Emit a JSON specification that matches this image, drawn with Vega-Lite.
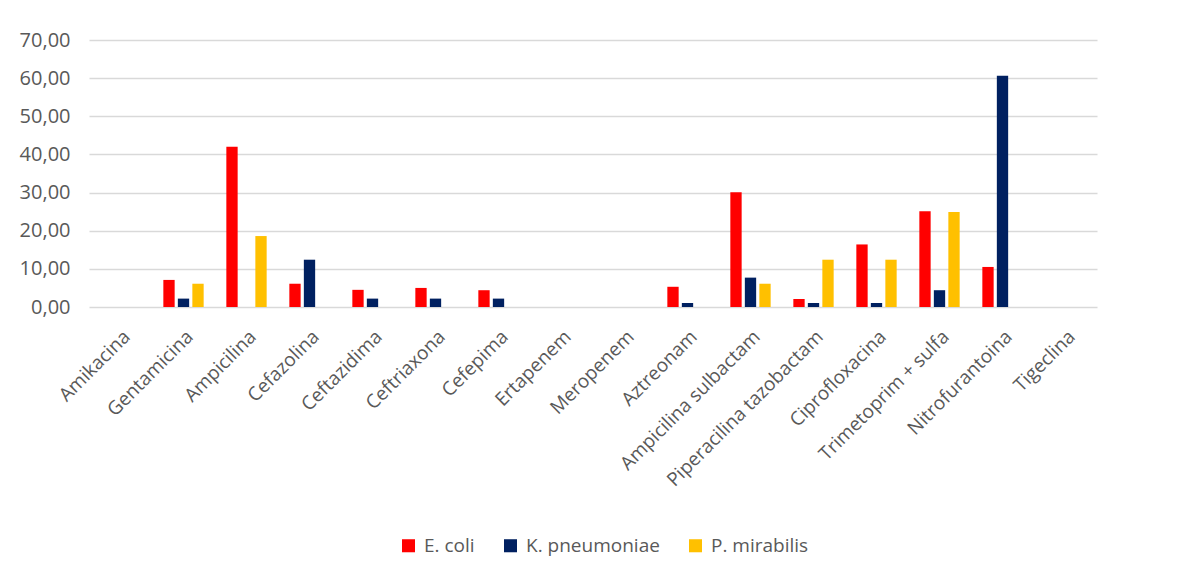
{
  "$schema": "https://vega.github.io/schema/vega-lite/v6.json",
  "width": 1008,
  "height": 267,
  "autosize": {"type": "none"},
  "padding": {"left": 89, "top": 40, "right": 106, "bottom": 276},
  "background": "white",
  "data": {"values": [
    {"a":"Amikacina","s":"E. coli","v":0},{"a":"Amikacina","s":"K. pneumoniae","v":0},{"a":"Amikacina","s":"P. mirabilis","v":0},
    {"a":"Gentamicina","s":"E. coli","v":7.1},{"a":"Gentamicina","s":"K. pneumoniae","v":2.2},{"a":"Gentamicina","s":"P. mirabilis","v":6.1},
    {"a":"Ampicilina","s":"E. coli","v":42.0},{"a":"Ampicilina","s":"K. pneumoniae","v":0},{"a":"Ampicilina","s":"P. mirabilis","v":18.6},
    {"a":"Cefazolina","s":"E. coli","v":6.1},{"a":"Cefazolina","s":"K. pneumoniae","v":12.4},{"a":"Cefazolina","s":"P. mirabilis","v":0},
    {"a":"Ceftazidima","s":"E. coli","v":4.5},{"a":"Ceftazidima","s":"K. pneumoniae","v":2.2},{"a":"Ceftazidima","s":"P. mirabilis","v":0},
    {"a":"Ceftriaxona","s":"E. coli","v":5.0},{"a":"Ceftriaxona","s":"K. pneumoniae","v":2.2},{"a":"Ceftriaxona","s":"P. mirabilis","v":0},
    {"a":"Cefepima","s":"E. coli","v":4.4},{"a":"Cefepima","s":"K. pneumoniae","v":2.2},{"a":"Cefepima","s":"P. mirabilis","v":0},
    {"a":"Ertapenem","s":"E. coli","v":0},{"a":"Ertapenem","s":"K. pneumoniae","v":0},{"a":"Ertapenem","s":"P. mirabilis","v":0},
    {"a":"Meropenem","s":"E. coli","v":0},{"a":"Meropenem","s":"K. pneumoniae","v":0},{"a":"Meropenem","s":"P. mirabilis","v":0},
    {"a":"Aztreonam","s":"E. coli","v":5.3},{"a":"Aztreonam","s":"K. pneumoniae","v":1.05},{"a":"Aztreonam","s":"P. mirabilis","v":0},
    {"a":"Ampicilina sulbactam","s":"E. coli","v":30.1},{"a":"Ampicilina sulbactam","s":"K. pneumoniae","v":7.7},{"a":"Ampicilina sulbactam","s":"P. mirabilis","v":6.1},
    {"a":"Piperacilina tazobactam","s":"E. coli","v":2.1},{"a":"Piperacilina tazobactam","s":"K. pneumoniae","v":1.05},{"a":"Piperacilina tazobactam","s":"P. mirabilis","v":12.4},
    {"a":"Ciprofloxacina","s":"E. coli","v":16.4},{"a":"Ciprofloxacina","s":"K. pneumoniae","v":1.05},{"a":"Ciprofloxacina","s":"P. mirabilis","v":12.4},
    {"a":"Trimetoprim + sulfa","s":"E. coli","v":25.1},{"a":"Trimetoprim + sulfa","s":"K. pneumoniae","v":4.4},{"a":"Trimetoprim + sulfa","s":"P. mirabilis","v":24.9},
    {"a":"Nitrofurantoina","s":"E. coli","v":10.5},{"a":"Nitrofurantoina","s":"K. pneumoniae","v":60.6},{"a":"Nitrofurantoina","s":"P. mirabilis","v":0},
    {"a":"Tigeclina","s":"E. coli","v":0},{"a":"Tigeclina","s":"K. pneumoniae","v":0},{"a":"Tigeclina","s":"P. mirabilis","v":0}
  ]},
  "mark": {"type": "bar"},
  "encoding": {
    "x": {
      "field": "a", "type": "nominal", "sort": null, "title": null,
      "scale": {"paddingInner": 0.36, "paddingOuter": 0.18},
      "axis": {
        "labelAngle": -45, "labelFont": "Open Sans", "labelFontSize": 19, "labelColor": "#595959",
        "domain": false, "ticks": false, "grid": false, "labelPadding": 20, "labelLimit": 300
      }
    },
    "xOffset": {"field": "s", "type": "nominal", "scale": {"paddingInner": 0.22}},
    "y": {
      "field": "v", "type": "quantitative", "title": null,
      "scale": {"domain": [0, 70]},
      "axis": {
        "values": [0, 10, 20, 30, 40, 50, 60, 70],
        "labelExpr": "replace(format(datum.value, '.2f'), '.', ',')",
        "labelFont": "Open Sans", "labelFontSize": 20, "labelColor": "#595959",
        "domain": false, "ticks": false, "gridColor": "#d9d9d9", "gridWidth": 1.3, "labelPadding": 19
      }
    },
    "color": {
      "field": "s", "type": "nominal", "title": null,
      "scale": {"domain": ["E. coli", "K. pneumoniae", "P. mirabilis"], "range": ["#FF0000", "#002060", "#FFC000"]},
      "legend": {
        "orient": "none", "legendX": 310, "legendY": 496, "direction": "horizontal",
        "symbolType": "square", "symbolSize": 170, "symbolStrokeWidth": 0, "symbolOffset": 0,
        "labelFont": "Open Sans", "labelFontSize": 19, "labelColor": "#595959", "columnPadding": 26, "labelOffset": 6
      }
    }
  },
  "config": {"view": {"stroke": null}}
}
